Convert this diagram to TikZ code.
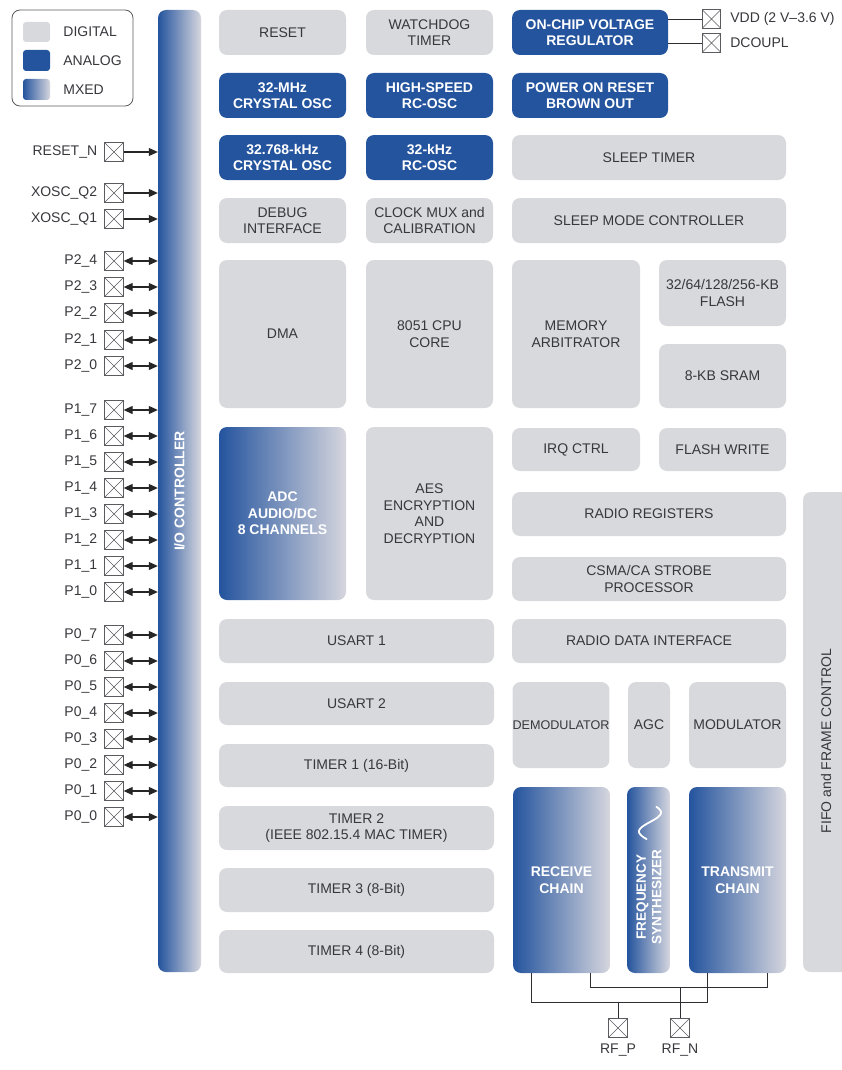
\documentclass[tikz,border=0pt]{standalone}
\usepackage{fontspec}
\setmainfont{Liberation Sans}
\usetikzlibrary{calc,arrows.meta,positioning}

\definecolor{dgray}{RGB}{216,217,220}
\definecolor{dtext}{RGB}{55,55,60}
\definecolor{ablue}{RGB}{36,84,158}
\definecolor{mgray}{RGB}{214,214,222}
\definecolor{wgray}{RGB}{45,45,50}
\definecolor{pgray}{RGB}{90,90,95}
\newcommand{\blkfont}{\fontsize{14}{16.5}\selectfont}

\tikzset{
  blk/.style={rounded corners=8pt, align=center, inner sep=2pt, font=\blkfont},
  digital/.style={blk, fill=dgray, text=dtext},
  analog/.style={blk, fill=ablue, text=white, font=\blkfont\bfseries},
  mixed/.style={blk, left color=ablue, right color=mgray, text=white, font=\blkfont\bfseries},
  sz/.style 2 args={minimum width=#1, minimum height=#2},
  pinbox/.style={draw=pgray, line width=0.8pt, minimum size=18.5pt, inner sep=0pt,
    path picture={\draw[pgray, line width=0.6pt]
      (path picture bounding box.north west) -- (path picture bounding box.south east)
      (path picture bounding box.south west) -- (path picture bounding box.north east);}},
  pinlbl/.style={font=\blkfont, text=dtext, inner sep=1pt},
  wire/.style={draw=wgray, line width=0.9pt},
  pinwire/.style={draw=black!85, line width=1.1pt},
  tip/.tip={Triangle[length=9pt,width=8pt]},
}

\begin{document}
\begin{tikzpicture}[x=1pt, y=-1pt]
\useasboundingbox (0,0) rectangle (841,1070);

% =================== legend ===================
\node[draw=pgray, line width=0.8pt, rounded corners=8pt, sz={121}{96}] (legend) at (72.5,58) {};
\node[digital, sz={27}{20}, rounded corners=3pt] (swd) at (36.5,32) {};
\node[analog, sz={27}{21}, rounded corners=3pt] (swa) at (36.5,60.5) {};
\node[mixed, sz={27}{21}, rounded corners=3pt] (swm) at (36.5,89.5) {};
\node[pinlbl, right=12pt of swd] (lgd) {DIGITAL};
\node[pinlbl, right=12pt of swa] (lga) {ANALOG};
\node[pinlbl, right=12pt of swm] (lgm) {MXED};

% =================== I/O controller bar ===================
\node[mixed, sz={43}{962}] (io) at (179.5,491) {};
\node[rotate=90, text=white, font=\blkfont\bfseries] (iolbl) at (io.center) {I/O CONTROLLER};

% =================== left column blocks ===================
\node[digital, sz={127}{45}] (reset)   at (282.5,32.5)  {RESET};
\node[digital, sz={127}{45}] (wdog)    at (429.5,32.5)  {WATCHDOG\\TIMER};
\node[analog,  sz={127}{45}] (xosca)   at (282.5,95.5)  {32-MHz\\CRYSTAL OSC};
\node[analog,  sz={127}{45}] (rcosca)  at (429.5,95.5)  {HIGH-SPEED\\RC-OSC};
\node[analog,  sz={127}{45}] (xoscb)   at (282.5,157.5) {32.768-kHz\\CRYSTAL OSC};
\node[analog,  sz={127}{45}] (rcoscb)  at (429.5,157.5) {32-kHz\\RC-OSC};
\node[digital, sz={127}{45}] (debug)   at (282.5,220.5) {DEBUG\\INTERFACE};
\node[digital, sz={127}{45}] (clkmux)  at (429.5,220.5) {CLOCK MUX and\\CALIBRATION};
\node[digital, sz={127}{148}] (dma)    at (282.5,334)   {DMA};
\node[digital, sz={127}{148}] (cpu)    at (429.5,334)   {8051 CPU\\CORE};
\node[mixed,   sz={127}{173}] (adc)    at (282.5,513.5) {ADC\\AUDIO/DC\\8 CHANNELS};
\node[digital, sz={127}{173}] (aes)    at (429.5,513.5) {AES\\ENCRYPTION\\AND\\DECRYPTION};
\node[digital, sz={275}{44}] (usarta)  at (356.5,641)   {USART 1};
\node[digital, sz={275}{43}] (usartb)  at (356.5,703.5) {USART 2};
\node[digital, sz={275}{43}] (tima)    at (356.5,765.5) {TIMER 1 (16-Bit)};
\node[digital, sz={275}{44}] (timb)    at (356.5,828)   {TIMER 2\\(IEEE 802.15.4 MAC TIMER)};
\node[digital, sz={275}{44}] (timc)    at (356.5,890)   {TIMER 3 (8-Bit)};
\node[digital, sz={275}{43}] (timd)    at (356.5,951.5) {TIMER 4 (8-Bit)};

% =================== right column blocks ===================
\node[analog,  sz={156}{45}] (vreg)    at (590,32.5)    {ON-CHIP VOLTAGE\\REGULATOR};
\node[analog,  sz={156}{45}] (por)     at (590,95.5)    {POWER ON RESET\\BROWN OUT};
\node[digital, sz={274}{45}] (sleept)  at (649,157.5)   {SLEEP TIMER};
\node[digital, sz={274}{45}] (sleepmc) at (649,220.5)   {SLEEP MODE CONTROLLER};
\node[digital, sz={128}{148}] (memarb) at (576,334)     {MEMORY\\ARBITRATOR};
\node[digital, sz={127}{66}] (flash)   at (722.5,293)   {32/64/128/256-KB\\FLASH};
\node[digital, sz={127}{64}] (sram)    at (722.5,376)   {8-KB SRAM};
\node[digital, sz={128}{43}] (irq)     at (576,449.5)   {IRQ CTRL};
\node[digital, sz={127}{43}] (flashw)  at (722.5,449.5) {FLASH WRITE};
\node[digital, sz={274}{44}] (radreg)  at (649,514)     {RADIO REGISTERS};
\node[digital, sz={274}{44}] (csma)    at (649,579)     {CSMA/CA STROBE\\PROCESSOR};
\node[digital, sz={274}{44}] (raddata) at (649,641)     {RADIO DATA INTERFACE};
\node[digital, sz={96}{86}, inner sep=0pt, font=\fontsize{12.6}{14}\selectfont] (demod) at (561,725) {DEMODULATOR};
\node[digital, sz={42}{86}] (agc)      at (649,725)     {AGC};
\node[digital, sz={97}{86}, inner sep=0pt] (mod) at (737.5,725) {MODULATOR};
\node[mixed,   sz={97}{186}] (rx)      at (561.5,880)   {RECEIVE\\CHAIN};
\node[mixed,   sz={43}{186}] (fs)      at (648.5,880)   {};
\node[mixed,   sz={97}{186}] (tx)      at (737.5,880)   {TRANSMIT\\CHAIN};
\node[rotate=90, align=center, text=white, font=\fontsize{13.5}{15.5}\selectfont\bfseries] (fslbl) at (649,897) {FREQUENCY\\SYNTHESIZER};
\draw[white, line width=1.8pt, line cap=round] plot[domain=0.1:0.95, samples=40] ({650+11*sin(360*\x)}, {803+38*\x});
\node[digital, sz={70}{480}] (fifo)    at (838,732)     {};
\node[rotate=90, text=dtext, font=\blkfont] (fifolbl) at (826,741) {FIFO and FRAME CONTROL};

% =================== supply pins ===================
\node[pinbox] (vdd) at (711.5,19) {};
\node[pinbox] (dcoupl) at (711.5,43) {};
\node[pinlbl, right=8pt of vdd] (vddlbl) {VDD (2 V--3.6 V)};
\node[pinlbl, right=8pt of dcoupl] (dclbl) {DCOUPL};
\draw[wire] (vreg.east |- vdd) -- (vdd);
\draw[wire] (vreg.east |- dcoupl) -- (dcoupl);

% =================== left pins ===================
\foreach \lbl/\yy [count=\k] in {RESET\_N/152, XOSC\_Q2/193, XOSC\_Q1/219}{
  \node[pinbox] (in\k) at (114,\yy) {};
  \node[pinlbl, left=6pt of in\k] (inl\k) {\lbl};
  \draw[pinwire, -tip] (in\k) -- (io.west |- in\k);
}
\foreach \lbl/\yy [count=\k] in {P2\_4/261, P2\_3/287, P2\_2/313, P2\_1/340, P2\_0/366,
    P1\_7/410, P1\_6/436, P1\_5/462, P1\_4/488, P1\_3/514, P1\_2/540, P1\_1/566, P1\_0/592,
    P0\_7/635, P0\_6/661, P0\_5/687, P0\_4/713, P0\_3/739, P0\_2/765, P0\_1/791, P0\_0/817}{
  \node[pinbox] (p\k) at (114,\yy) {};
  \node[pinlbl, left=6pt of p\k] (pl\k) {\lbl};
  \draw[pinwire, tip-tip] (p\k) -- (io.west |- p\k);
}

% =================== RF pins ===================
\coordinate (rxa) at ($(rx.south west)+(19,0)$);
\coordinate (rxb) at ($(rx.south east)+(-20,0)$);
\coordinate (txa) at ($(tx.south west)+(19,0)$);
\coordinate (txb) at ($(tx.south east)+(-19,0)$);
\draw[wire] (rxa) -- ++(0,29) coordinate (lowl) -| (txa);
\draw[wire] (rxb) -- ++(0,14) coordinate (highl) -| (txb);
\node[pinbox] (rfp) at (618,1028) {};
\node[pinbox] (rfn) at (680,1028) {};
\node[pinlbl, below=5pt of rfp] (rfpl) {RF\_P};
\node[pinlbl, below=5pt of rfn] (rfnl) {RF\_N};
\draw[wire] (rfp) -- (rfp |- lowl);
\draw[wire] (rfn) -- (rfn |- highl);

\end{tikzpicture}
\end{document}
